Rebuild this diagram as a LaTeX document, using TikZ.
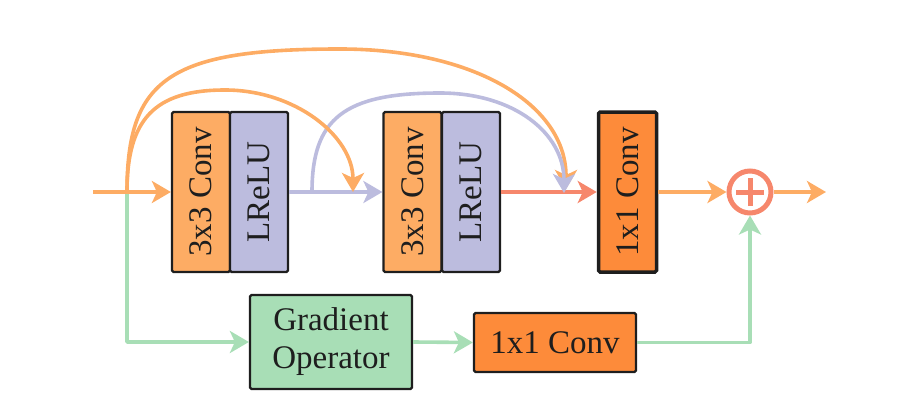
\documentclass[tikz,border=0pt]{standalone}
\usepackage{fontspec}
\setmainfont{Liberation Serif}
\usetikzlibrary{arrows.meta}
\definecolor{orangeL}{RGB}{253,172,100}
\definecolor{orangeD}{RGB}{253,139,58}
\definecolor{purpleL}{RGB}{188,188,222}
\definecolor{salmonC}{RGB}{246,135,108}
\definecolor{greenL}{RGB}{168,222,182}
\definecolor{inkC}{RGB}{30,30,30}
\tikzset{
  tipA/.tip={Stealth[length=19pt,width=22pt,inset=5pt]},
  blk/.style={draw=inkC, line width=2.2pt, rounded corners=1.5pt, inner sep=0pt,
    font=\fontsize{33}{38}\selectfont, text=inkC, align=center},
  vblk/.style={blk, minimum width=58pt, minimum height=160pt},
  conn/.style={line width=3.6pt, -tipA},
  oline/.style={conn, draw=orangeL},
  pline/.style={conn, draw=purpleL},
  sline/.style={conn, draw=salmonC},
  gline/.style={conn, draw=greenL, line join=round},
}
\begin{document}
\begin{tikzpicture}[x=1pt,y=-1pt]
\useasboundingbox (0,0) rectangle (897,420);
% coordinates
\coordinate (in) at (93,192);
\coordinate (j) at (127,192);
\coordinate (out) at (826,192);
\coordinate (a1) at (225,90);
\coordinate (t1) at (353,192);
\coordinate (a2) at (340,49);
\coordinate (t2) at (566,189);
\coordinate (p0) at (312,192);
\coordinate (a3) at (440,93);
\coordinate (t3) at (564,193);
% green branch (under everything)
\node[blk, fill=greenL, minimum width=162pt, minimum height=94pt] (g) at (331,342) {Gradient\\Operator};
\node[blk, fill=orangeD, minimum width=162pt, minimum height=59pt] (c4) at (555,342.5) {1x1 Conv};
\node[draw=salmonC, line width=5pt, circle, minimum size=42pt, inner sep=0pt] (plus) at (750,192) {};
\draw[salmonC, line width=5pt] ([xshift=-14pt]plus.center) -- ([xshift=14pt]plus.center)
  ([yshift=-14pt]plus.center) -- ([yshift=14pt]plus.center);
\draw[gline] (j) |- (g.west);
\draw[gline] (g.east) -- (c4.west);
\draw[gline] (c4.east) -| (plus.south);
% main blocks
\node[vblk, fill=orangeL] (c1) at (201,192) {\rotatebox{90}{3x3 Conv}};
\node[vblk, fill=purpleL] (l1) at (259,192) {\rotatebox{90}{LReLU}};
\node[vblk, fill=orangeL] (c2) at (412.5,192) {\rotatebox{90}{3x3 Conv}};
\node[vblk, fill=purpleL] (l2) at (471,192) {\rotatebox{90}{LReLU}};
\node[vblk, fill=orangeD, line width=3.5pt] (c3) at (627.5,192) {\rotatebox{90}{1x1 Conv}};
% main line
\draw[oline] (in) -- (c1.west);
\draw[oline] (c3.east) -- (plus.west);
\draw[oline] (plus.east) -- (out);
% outer orange arc
\draw[oline] (j) .. controls +(0,-113.6) and +(-170.4,0) .. (a2)
  .. controls +(135,0) and +(0,-84) .. (t2);
\draw[sline] (l2.east) -- (c3.west);
\draw[pline] (l1.east) -- (c2.west);
% purple arc
\draw[pline] (p0) .. controls +(0,-73.5) and +(-96,0) .. (a3)
  .. controls +(74.4,0) and +(0,-59.4) .. (t3);
% inner orange arc
\draw[oline] (j) .. controls +(0,-72.7) and +(-70.6,0) .. (a1)
  .. controls +(70.4,0) and +(0,-55.6) .. (t1);
\end{tikzpicture}
\end{document}
